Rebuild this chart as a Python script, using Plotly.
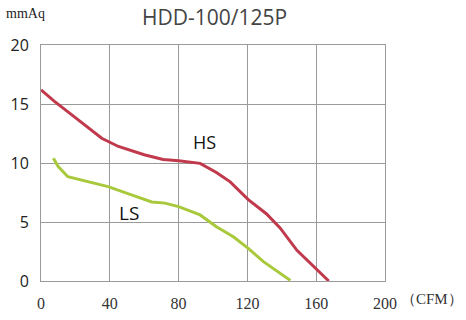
import plotly.graph_objects as go

hs_x = [0, 8, 15.5, 25.6, 35.3, 45, 60, 71, 80, 92.5, 102, 110, 120.5, 131, 139, 148.8, 158.5, 167.3]
hs_y = [16.2, 15.2, 14.35, 13.2, 12.1, 11.4, 10.7, 10.3, 10.2, 9.97, 9.2, 8.4, 6.9, 5.7, 4.5, 2.6, 1.2, 0]

ls_x = [7.2, 10, 15.6, 27.4, 39, 52.6, 64.4, 72, 80, 92.5, 102, 111.8, 120.5, 129.3, 145]
ls_y = [10.4, 9.7, 8.84, 8.4, 8.0, 7.3, 6.7, 6.6, 6.3, 5.6, 4.6, 3.75, 2.77, 1.64, 0.05]

x_ticks = [0, 40, 80, 120, 160, 200]
y_ticks = [0, 5, 10, 15, 20]

fig = go.Figure()
fig.add_trace(go.Scatter(x=hs_x, y=hs_y, mode="lines",
                         line=dict(color="#c0394c", width=3), name="HS"))
fig.add_trace(go.Scatter(x=ls_x, y=ls_y, mode="lines",
                         line=dict(color="#a9c93c", width=3), name="LS"))

fig.update_layout(
    width=466, height=320,
    margin=dict(l=41, r=81, t=45, b=39),
    paper_bgcolor="white", plot_bgcolor="white",
    showlegend=False,
    xaxis=dict(range=[0, 200], tickvals=x_ticks, ticktext=[str(v) for v in x_ticks],
               showgrid=True, gridcolor="#9a9a9a", gridwidth=1,
               showline=True, linecolor="#9a9a9a", linewidth=1, mirror=True,
               zeroline=False, ticks="", ticklabelstandoff=8, automargin=False,
               tickfont=dict(family="Liberation Serif, serif", size=16, color="#333333")),
    yaxis=dict(range=[0, 20], tickvals=y_ticks, ticktext=[str(v) for v in y_ticks],
               showgrid=True, gridcolor="#9a9a9a", gridwidth=1,
               showline=True, linecolor="#9a9a9a", linewidth=1, mirror=True,
               zeroline=False, ticks="", ticklabelstandoff=8, automargin=False,
               tickfont=dict(family="Open Sans, sans-serif", size=16, color="#222222")),
    annotations=[
        dict(text="HDD-100/125P", xref="paper", yref="paper", x=0.503, y=1.0, yshift=28,
             yanchor="middle", showarrow=False,
             font=dict(family="Open Sans, sans-serif", size=21, color="#444444")),
        dict(text="mmAq", xref="paper", yref="paper", x=-0.107, y=1.0, yshift=32,
             xanchor="left", yanchor="middle", showarrow=False,
             font=dict(family="Liberation Serif, serif", size=14, color="#222222")),
        dict(text="（CFM）", xref="paper", yref="paper", x=1.0, y=0.0, xshift=14, yshift=-18,
             xanchor="left", yanchor="middle", showarrow=False,
             font=dict(family="Liberation Serif, serif", size=15, color="#333333")),
        dict(text="HS", x=95, y=11.8, showarrow=False,
             font=dict(family="Open Sans, sans-serif", size=18, color="#111111")),
        dict(text="LS", x=51, y=5.8, showarrow=False,
             font=dict(family="Open Sans, sans-serif", size=19, color="#111111")),
    ],
)

fig.write_html("out.html")
